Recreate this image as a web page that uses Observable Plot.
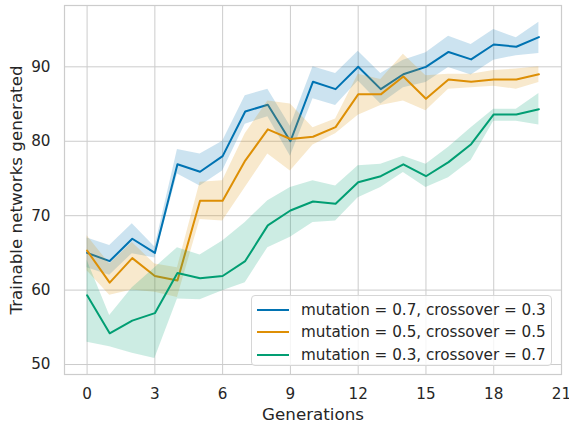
<!DOCTYPE html>
<html>
<head>
<meta charset="utf-8">
<script src="https://cdn.jsdelivr.net/npm/d3@7"></script>
<script src="https://cdn.jsdelivr.net/npm/@observablehq/plot@0.6"></script>
<style>
  html, body { margin: 0; padding: 0; background: #fff; }
  #wrap { position: relative; width: 569px; height: 425px; font-family: "DejaVu Sans", sans-serif; color: #262626; }
  #legend {
    position: absolute; left: 251px; top: 295px; width: 301px; height: 71px;
    box-sizing: border-box; border: 1px solid #d6d6d6; border-radius: 4px;
    background: rgba(255,255,255,0.8); padding: 3px 0 0 5px;
  }
  .row { display: flex; align-items: center; height: 22.3px; font-size: 15.2px; white-space: nowrap; }
  .sw { width: 32px; height: 2px; margin-right: 12px; }
</style>
</head>
<body>
<div id="wrap"><div id="legend"></div></div>
<script>
const generations = [0,1,2,3,4,5,6,7,8,9,10,11,12,13,14,15,16,17,18,19,20];

const seriesNames = [
  "mutation = 0.7, crossover = 0.3",
  "mutation = 0.5, crossover = 0.5",
  "mutation = 0.3, crossover = 0.7"
];
const seriesColors = ["#0173b2", "#de8f05", "#029e73"];

const blueMean = [65.0,63.9,66.9,65.0,76.9,75.9,78.0,84.0,84.9,80.0,88.0,87.0,90.0,87.0,89.0,90.0,92.0,91.0,93.0,92.7,94.0];
const blueLow  = [63.0,62.0,64.9,64.3,75.6,74.0,76.0,82.3,83.3,78.0,85.7,84.8,88.1,85.0,87.2,87.9,89.9,88.9,90.9,91.5,91.8];
const blueHigh = [67.0,66.0,68.9,65.8,78.9,78.3,80.0,86.1,87.0,82.0,90.0,89.1,92.1,89.1,90.9,91.9,94.1,93.0,95.0,93.9,96.0];

const orangeMean = [65.3,61.0,64.3,61.9,61.3,72.0,72.0,77.4,81.6,80.3,80.6,81.9,86.3,86.3,88.7,85.7,88.3,88.0,88.3,88.3,89.0];
const orangeLow  = [62.6,59.3,60.0,59.7,59.0,69.5,69.3,73.8,78.3,76.0,79.5,81.0,83.5,84.8,85.4,84.1,87.0,87.2,87.4,87.0,87.9];
const orangeHigh = [67.3,63.5,66.4,63.5,63.0,74.5,74.7,81.0,85.4,85.0,81.8,83.0,89.0,88.3,91.7,88.8,89.0,89.0,89.5,89.7,90.0];

const greenMean = [59.3,54.2,55.9,56.9,62.3,61.6,61.9,63.9,68.7,70.7,71.9,71.6,74.5,75.3,76.9,75.3,77.2,79.6,83.6,83.6,84.3];
const greenLow  = [53.0,52.4,51.5,50.8,58.8,58.7,59.9,61.0,65.7,67.1,69.1,69.3,72.4,73.8,75.8,73.8,75.1,77.4,82.7,82.7,82.2];
const greenHigh = [64.0,56.6,60.3,63.0,65.7,64.7,66.6,69.1,72.0,73.8,74.7,74.0,76.7,76.9,78.0,76.9,79.2,81.8,84.3,84.3,86.4];

const xTicks = [0,3,6,9,12,15,18,21];
const yTicks = [50,60,70,80,90];

const means = [blueMean, orangeMean, greenMean];
const lows = [blueLow, orangeLow, greenLow];
const highs = [blueHigh, orangeHigh, greenHigh];

const rows = [];
seriesNames.forEach((name, s) => {
  generations.forEach((g, i) => {
    rows.push({series: name, gen: g, mean: means[s][i], lo: lows[s][i], hi: highs[s][i]});
  });
});

const marks = [
  Plot.gridX(xTicks, {stroke: "#cccccc", strokeOpacity: 1, strokeWidth: 1}),
  Plot.gridY(yTicks, {stroke: "#cccccc", strokeOpacity: 1, strokeWidth: 1}),
  Plot.frame({stroke: "#cccccc", strokeWidth: 1.2})
];
seriesNames.forEach((name, s) => {
  const d = rows.filter(r => r.series === name);
  marks.push(Plot.line(d, {x: "gen", y: "mean", stroke: seriesColors[s], strokeWidth: 2}));
  marks.push(Plot.areaY(d, {x: "gen", y1: "lo", y2: "hi", fill: seriesColors[s], fillOpacity: 0.2}));
});
marks.push(Plot.axisX(xTicks, {tickSize: 0, tickPadding: 14, fontSize: 15.2, label: null}));
marks.push(Plot.axisY(yTicks, {tickSize: 0, tickPadding: 14, fontSize: 15.2, label: null}));
marks.push(Plot.axisX([], {tickSize: 0, fontSize: 16.7, label: "Generations", labelAnchor: "center", labelArrow: "none", labelOffset: 45}));
marks.push(Plot.axisY([], {tickSize: 0, fontSize: 16.7, label: "Trainable networks generated", labelAnchor: "center", labelArrow: "none", labelOffset: 54}));

const chart = Plot.plot({
  width: 569,
  height: 425,
  marginLeft: 64,
  marginRight: 8,
  marginTop: 5,
  marginBottom: 51,
  style: {fontFamily: "DejaVu Sans", color: "#262626", fontSize: "16.7px", background: "white", overflow: "visible"},
  x: {domain: [-1, 21]},
  y: {domain: [48.66, 98.24]},
  marks
});
const wrap = document.getElementById("wrap");
wrap.insertBefore(chart, wrap.firstChild);
chart.style.position = "absolute";
chart.style.left = "0";
chart.style.top = "0";

const legend = document.getElementById("legend");
seriesNames.forEach((name, s) => {
  const row = document.createElement("div");
  row.className = "row";
  const sw = document.createElement("div");
  sw.className = "sw";
  sw.style.background = seriesColors[s];
  const t = document.createElement("span");
  t.textContent = name;
  row.appendChild(sw);
  row.appendChild(t);
  legend.appendChild(row);
});
</script>
</body>
</html>
